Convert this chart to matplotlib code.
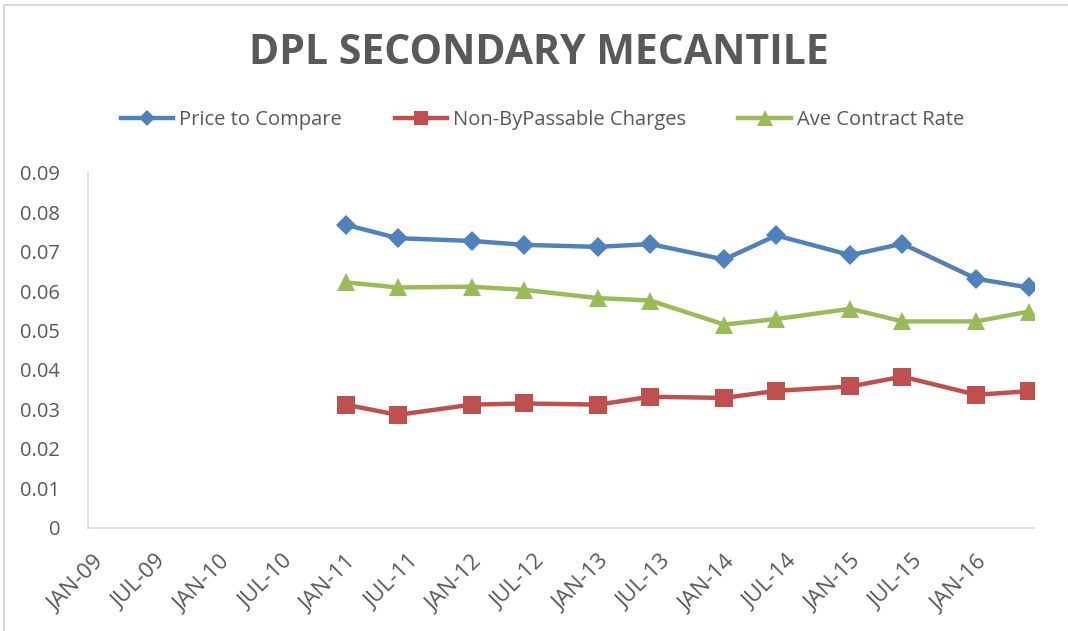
import matplotlib
matplotlib.use("Agg")
import matplotlib.pyplot as plt
from matplotlib.lines import Line2D
import datetime as dt

# ---- data ----
dates = ["2011-01", "2011-06", "2012-01", "2012-06", "2013-01", "2013-06",
         "2014-01", "2014-06", "2015-01", "2015-06", "2016-01", "2016-06"]
price_to_compare = [0.0768, 0.0734, 0.0727, 0.0717, 0.0712, 0.0719,
                    0.0680, 0.0741, 0.0691, 0.0720, 0.0631, 0.0609]
non_bypassable = [0.0312, 0.0286, 0.0312, 0.0315, 0.0312, 0.0332,
                  0.0329, 0.0347, 0.0358, 0.0383, 0.0337, 0.0346]
ave_contract = [0.0622, 0.0609, 0.0611, 0.0603, 0.0582, 0.0576,
                0.0515, 0.0529, 0.0555, 0.0523, 0.0523, 0.0548]
series_names = ["Price to Compare", "Non-ByPassable Charges", "Ave Contract Rate"]
title = "DPL SECONDARY MECANTILE"
yticks = [0, 0.01, 0.02, 0.03, 0.04, 0.05, 0.06, 0.07, 0.08, 0.09]
ytick_labels = ["0", "0.01", "0.02", "0.03", "0.04", "0.05", "0.06", "0.07", "0.08", "0.09"]
xtick_dates = ["2009-01", "2009-07", "2010-01", "2010-07", "2011-01", "2011-07",
               "2012-01", "2012-07", "2013-01", "2013-07", "2014-01", "2014-07",
               "2015-01", "2015-07", "2016-01"]

def to_date(s):
    y, m = s.split("-")
    return dt.date(int(y), int(m), 1)

x = [to_date(d) for d in dates]
xt = [to_date(d) for d in xtick_dates]

plt.rcParams['font.family'] = ['Open Sans', 'DejaVu Sans']
grey = "#595959"

fig = plt.figure(figsize=(10.68, 6.31), dpi=100)
ax = fig.add_axes([88/1068, 1 - 527.7/631, (1034-88)/1068, (527.7-172.7)/631])

colors = ["#4F81BD", "#C0504D", "#9BBB59"]
markers = ["D", "s", "^"]
msizes = [10, 12.5, 13.5]
handles = []
for vals, name, c, m, ms in zip([price_to_compare, non_bypassable, ave_contract],
                                series_names, colors, markers, msizes):
    h, = ax.plot(x, vals, color=c, lw=3.2, marker=m, markersize=ms,
                 markeredgewidth=0, label=name, solid_joinstyle="round")
    handles.append(h)

ax.set_ylim(0, 0.09)
ax.set_yticks(yticks)
ax.set_yticklabels(ytick_labels)
ax.set_xlim(dt.date(2008, 12, 16), dt.date(2016, 6, 16))
ax.set_xticks(xt)
ax.set_xticklabels([d.strftime("%b-%y").upper() for d in xt])
for lbl in ax.get_xticklabels():
    lbl.set_rotation(45)
    lbl.set_ha("right")
    lbl.set_va("top")
    lbl.set_rotation_mode("anchor")

ax.tick_params(axis="both", length=0, colors=grey)
ax.tick_params(axis="y", pad=20, labelsize=14.5)
ax.tick_params(axis="x", pad=17, labelsize=16)
for s in ["top", "right"]:
    ax.spines[s].set_visible(False)
for s in ["left", "bottom"]:
    ax.spines[s].set_color("#D9D9D9")
    ax.spines[s].set_linewidth(1.2)

fig.text(0.505, 1 - 53/631, title, ha="center", va="center", fontsize=29.5,
         fontweight="bold", color=grey)

leg = fig.legend(handles=handles, loc="center", bbox_to_anchor=(0.508, 1 - 120/631),
                 ncol=3, frameon=False, fontsize=14.5, handlelength=2.6,
                 columnspacing=2.6, handletextpad=0.3, labelcolor=grey)
for lh in leg.legend_handles:
    lh.set_markersize(lh.get_markersize() * 0.85)

# chart-area border (top and left edges visible in the crop)
fig.add_artist(Line2D([4/1068, 4/1068], [0, 1 - 5/631], transform=fig.transFigure,
                      color="#D9D9D9", lw=1.5))
fig.add_artist(Line2D([4/1068, 1], [1 - 5/631, 1 - 5/631], transform=fig.transFigure,
                      color="#D9D9D9", lw=1.5))

fig.savefig("out.png", dpi=100)
